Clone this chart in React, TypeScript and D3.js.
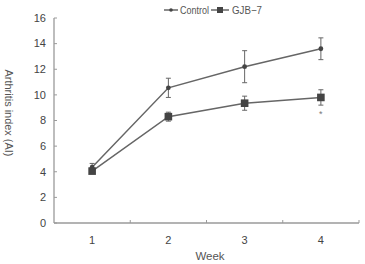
import React from "react";
import * as d3 from "d3";

const weeks = ["1", "2", "3", "4"];
const controlMean = [4.35, 10.55, 12.2, 13.6];
const controlErr = [0.3, 0.75, 1.25, 0.85];
const gjbMean = [4.05, 8.3, 9.35, 9.8];
const gjbErr = [0.2, 0.35, 0.55, 0.6];
const yTicks = [0, 2, 4, 6, 8, 10, 12, 14, 16];
const significant = [false, false, false, true];

const W = 365;
const H = 264;
const left = 54;
const right = 359;
const top = 18;
const bottom = 223;
const font = "Arial, 'Liberation Sans', sans-serif";

export default function App() {
  const x = d3.scaleBand<string>().domain(weeks).range([left, right]);
  const y = d3.scaleLinear().domain([0, 16]).range([bottom, top]);
  const cx = (w: string) => (x(w) as number) + x.bandwidth() / 2;
  const line = d3
    .line<number>()
    .x((_, i) => cx(weeks[i]))
    .y((v) => y(v));

  const axisColor = "#9a9a9a";
  const lineColor = "#666";
  const markColor = "#444";

  const series = [
    { name: "Control", mean: controlMean, err: controlErr, shape: "circle" },
    { name: "GJB-7", mean: gjbMean, err: gjbErr, shape: "square" },
  ];

  return (
    <svg
      width={W}
      height={H}
      style={{ position: "absolute", left: 0, top: 0, background: "#fff" }}
      fontFamily={font}
    >
      {/* axes */}
      <line x1={left} x2={left} y1={top} y2={bottom} stroke={axisColor} strokeWidth={1.3} />
      <line x1={left} x2={right} y1={bottom} y2={bottom} stroke={axisColor} strokeWidth={1.3} />
      {yTicks.map((t) => (
        <g key={t}>
          <line x1={left} x2={left + 3} y1={y(t)} y2={y(t)} stroke={axisColor} strokeWidth={1} />
          <text x={46} y={y(t)} dy="0.35em" textAnchor="end" fontSize={11} fill="#444">
            {t}
          </text>
        </g>
      ))}
      {weeks.map((w) => (
        <g key={w}>
          <line
            x1={(x(w) as number) + x.bandwidth()}
            x2={(x(w) as number) + x.bandwidth()}
            y1={bottom}
            y2={bottom - 3}
            stroke={axisColor}
            strokeWidth={1}
          />
          <text x={cx(w)} y={bottom + 17} dy="0.35em" textAnchor="middle" fontSize={11} fill="#444">
            {w}
          </text>
        </g>
      ))}
      <text x={210} y={256} dy="0.35em" textAnchor="middle" fontSize={11.5} fill="#555">
        Week
      </text>
      <text
        transform={`translate(9, 113) rotate(90)`}
        textAnchor="middle"
        dy="0.35em"
        fontSize={11}
        fill="#555"
        textLength={87}
        lengthAdjust="spacingAndGlyphs"
      >
        Arthritis index (AI)
      </text>

      {/* series */}
      {series.map((s) => (
        <g key={s.name}>
          <path d={line(s.mean) ?? ""} fill="none" stroke={lineColor} strokeWidth={1.5} />
          {s.mean.map((m, i) => {
            const px = cx(weeks[i]);
            const y1 = y(m + s.err[i]);
            const y2 = y(m - s.err[i]);
            return (
              <g key={i}>
                <line x1={px} x2={px} y1={y1} y2={y2} stroke={lineColor} strokeWidth={1} />
                <line x1={px - 2.5} x2={px + 2.5} y1={y1} y2={y1} stroke={lineColor} strokeWidth={1} />
                <line x1={px - 2.5} x2={px + 2.5} y1={y2} y2={y2} stroke={lineColor} strokeWidth={1} />
                {s.shape === "circle" ? (
                  <circle cx={px} cy={y(m)} r={2.4} fill={markColor} />
                ) : (
                  <rect x={px - 3.8} y={y(m) - 3.8} width={7.6} height={7.6} fill={markColor} />
                )}
              </g>
            );
          })}
        </g>
      ))}
      {gjbMean.map((m, i) =>
        significant[i] ? (
          <text
            key={i}
            x={cx(weeks[i])}
            y={y(m - gjbErr[i]) + 12}
            textAnchor="middle"
            fontSize={9}
            fill="#777"
          >
            *
          </text>
        ) : null
      )}

      {/* legend */}
      <g>
        <line x1={164} x2={178} y1={10} y2={10} stroke={lineColor} strokeWidth={1.5} />
        <circle cx={171} cy={10} r={1.8} fill={markColor} />
        <text
          x={180}
          y={10}
          dy="0.35em"
          fontSize={10.5}
          fill="#555"
          textLength={29}
          lengthAdjust="spacingAndGlyphs"
        >
          Control
        </text>
        <line x1={211} x2={229} y1={10} y2={10} stroke={lineColor} strokeWidth={1.5} />
        <rect x={217} y={7} width={6} height={6} fill={markColor} />
        <text
          x={232}
          y={10}
          dy="0.35em"
          fontSize={10.5}
          fill="#555"
          textLength={30}
          lengthAdjust="spacingAndGlyphs"
        >
          GJB−7
        </text>
      </g>
    </svg>
  );
}
